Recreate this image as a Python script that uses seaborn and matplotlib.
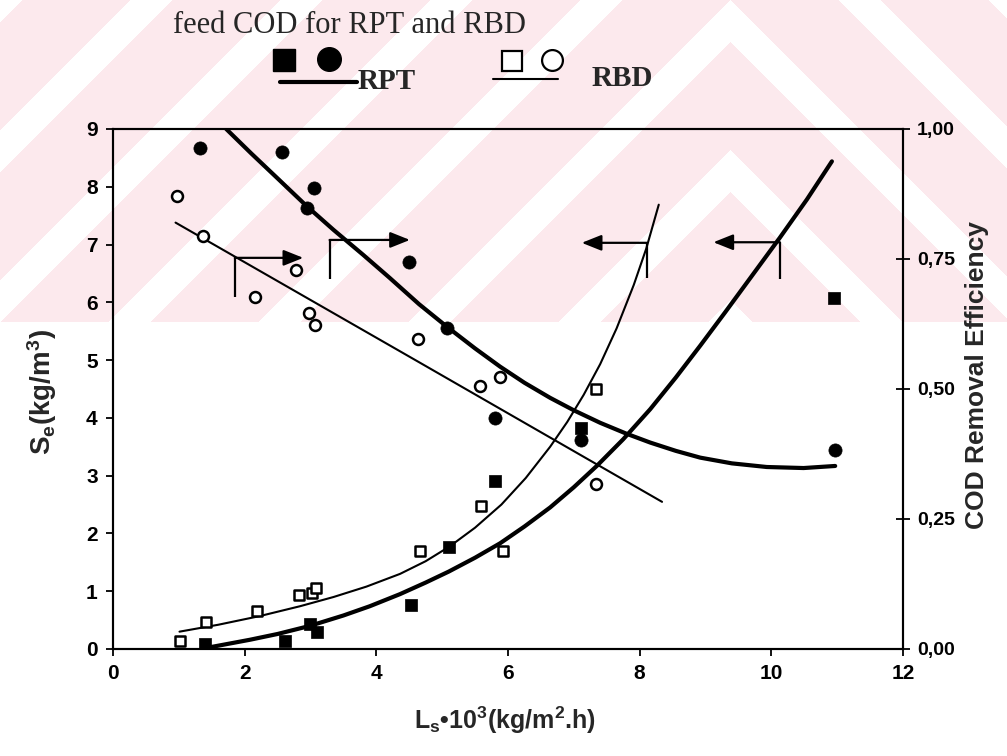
import numpy as np
import matplotlib
matplotlib.use("Agg")
import matplotlib.pyplot as plt
import seaborn as sns

# Loading rate L_s*10^3 (kg/m2.h) vs effluent COD S_e (kg/m3) -- measured points
rpt_se_x = [1.40, 2.62, 2.99, 3.10, 4.52, 5.10, 5.81, 7.11, 10.95]
rpt_se_y = [0.09, 0.13, 0.43, 0.29, 0.77, 1.76, 2.90, 3.83, 6.07]
rbd_se_x = [1.02, 1.41, 2.19, 2.83, 3.03, 3.09, 4.66, 5.59, 5.92, 7.33]
rbd_se_y = [0.14, 0.47, 0.66, 0.93, 0.97, 1.06, 1.69, 2.48, 1.69, 4.50]

# COD removal efficiency -- measured points
rpt_eff_x = [1.32, 2.56, 2.94, 3.05, 4.49, 5.07, 5.81, 7.11, 10.97]
rpt_eff_y = [0.963, 0.955, 0.849, 0.887, 0.744, 0.617, 0.445, 0.402, 0.382]
rbd_eff_x = [0.97, 1.37, 2.16, 2.78, 2.98, 3.07, 4.64, 5.58, 5.88, 7.33]
rbd_eff_y = [0.871, 0.794, 0.676, 0.728, 0.646, 0.624, 0.597, 0.506, 0.523, 0.318]

# Fitted trend curves
rpt_se_fit_x = [1.47, 2.08, 2.50, 2.99, 3.50, 3.90, 4.36, 4.75, 5.10, 5.50, 5.88, 6.25,
                6.64, 7.00, 7.35, 7.75, 8.16, 8.55, 8.92, 9.30, 9.68, 10.13, 10.54, 10.92]
rpt_se_fit_y = [0.03, 0.16, 0.26, 0.40, 0.58, 0.74, 0.95, 1.15, 1.34, 1.58, 1.83, 2.12,
                2.45, 2.80, 3.17, 3.63, 4.15, 4.70, 5.25, 5.83, 6.42, 7.12, 7.78, 8.44]
rbd_se_fit_x = [1.01, 1.60, 2.23, 2.84, 3.35, 3.85, 4.36, 4.75, 5.12, 5.50, 5.90, 6.27,
                6.64, 6.90, 7.15, 7.40, 7.65, 7.91, 8.10, 8.29]
rbd_se_fit_y = [0.30, 0.42, 0.57, 0.74, 0.90, 1.08, 1.30, 1.52, 1.78, 2.10, 2.50, 2.96,
                3.50, 3.93, 4.40, 4.93, 5.55, 6.30, 6.93, 7.69]
rpt_eff_fit_x = [1.72, 2.10, 2.50, 2.94, 3.35, 3.80, 4.20, 4.65, 5.07, 5.50, 5.88, 6.25,
                 6.64, 7.00, 7.40, 7.80, 8.16, 8.55, 8.92, 9.40, 9.93, 10.49, 10.97]
rpt_eff_fit_y = [1.000, 0.953, 0.905, 0.852, 0.806, 0.758, 0.714, 0.663, 0.620, 0.578,
                 0.543, 0.512, 0.483, 0.459, 0.435, 0.414, 0.397, 0.381, 0.368, 0.357,
                 0.350, 0.348, 0.352]
rbd_eff_fit_x = [0.95, 4.67, 8.34]
rbd_eff_fit_y = [0.820, 0.550, 0.283]

# Axis pointers (in S_e units): stem x, stem bottom, stem top, arrow tip x
arrow_x = [1.85, 3.29, 8.11, 10.13]
arrow_y0 = [6.09, 6.40, 6.42, 6.41]
arrow_y1 = [6.77, 7.08, 7.03, 7.04]
arrow_tip = [2.89, 4.51, 7.12, 9.12]

x_ticks = [0, 2, 4, 6, 8, 10, 12]
y_ticks = list(range(10))
eff_ticks = [0.0, 0.25, 0.5, 0.75, 1.0]
eff_labels = ["0,00", "0,25", "0,50", "0,75", "1,00"]

sns.set_theme(style="ticks")
plt.rcParams["font.family"] = ["Liberation Sans", "DejaVu Sans"]
plt.rcParams["mathtext.fontset"] = "custom"
plt.rcParams["mathtext.bf"] = "Liberation Sans:bold"
plt.rcParams["mathtext.rm"] = "Liberation Sans:bold"
plt.rcParams["mathtext.default"] = "bf"

W, H = 1007, 756
fig = plt.figure(figsize=(W / 100, H / 100), dpi=100, facecolor="white")

# pale chevron band across the top of the page
yy, xx = np.mgrid[0:H, 0:W]
band = (yy < 322)
phase = np.mod(yy - np.abs(xx - 730), 150)
pink = band & (phase >= 42)
bg = np.ones((H, W, 3))
bg[pink] = np.array([252, 233, 237]) / 255.0
fig.figimage(bg, xo=0, yo=0, origin="upper", zorder=-10)


def fx(px):
    return px / W


def fy(py):
    return 1 - py / H


ax = fig.add_axes([fx(113), fy(649), (903 - 113) / W, (649 - 129) / H])
ax.set_facecolor("none")
ax2 = ax.twinx()
ax2.set_facecolor("none")

thick = 3.0
thin = 1.5
blk = "black"

# S_e curves and points (left axis)
sns.lineplot(x=rpt_se_fit_x, y=rpt_se_fit_y, ax=ax, color=blk, lw=thick, sort=False, estimator=None)
sns.lineplot(x=rbd_se_fit_x, y=rbd_se_fit_y, ax=ax, color=blk, lw=thin, sort=False, estimator=None)
sns.scatterplot(x=rpt_se_x, y=rpt_se_y, ax=ax, marker="s", s=72, color=blk, edgecolor=blk, linewidth=0.5, zorder=5)
sns.scatterplot(x=rbd_se_x, y=rbd_se_y, ax=ax, marker="s", s=62, color="white", edgecolor=blk, linewidth=1.8, zorder=5)

# efficiency curves and points (right axis)
sns.lineplot(x=rpt_eff_fit_x, y=rpt_eff_fit_y, ax=ax2, color=blk, lw=thick, sort=False, estimator=None)
sns.lineplot(x=rbd_eff_fit_x, y=rbd_eff_fit_y, ax=ax2, color=blk, lw=thin, sort=False, estimator=None)
sns.scatterplot(x=rpt_eff_x, y=rpt_eff_y, ax=ax2, marker="o", s=90, color=blk, edgecolor=blk, linewidth=0.5, zorder=5)
sns.scatterplot(x=rbd_eff_x, y=rbd_eff_y, ax=ax2, marker="o", s=62, color="white", edgecolor=blk, linewidth=1.8, zorder=5)

# pointers telling which axis each curve belongs to
for x0, y0, y1, xt in zip(arrow_x, arrow_y0, arrow_y1, arrow_tip):
    ax.plot([x0, x0], [y0, y1], color=blk, lw=1.6, solid_capstyle="butt")
    ax.annotate("", xy=(xt, y1), xytext=(x0, y1),
                arrowprops=dict(arrowstyle="-|>,head_length=1.0,head_width=0.4",
                                color=blk, lw=1.6, shrinkA=0, shrinkB=0))

ax.set_xlim(0, 12)
ax.set_ylim(0, 9)
ax2.set_ylim(0, 1)
ax.set_xticks(x_ticks)
ax.set_yticks(y_ticks)
ax2.set_yticks(eff_ticks)
ax2.set_yticklabels(eff_labels)
ax.set_xlabel("")
ax.set_ylabel("")
ax2.set_ylabel("")

for a in (ax, ax2):
    for sp in a.spines.values():
        sp.set_visible(True)
        sp.set_linewidth(1.5)
        sp.set_color(blk)

ax.tick_params(axis="both", which="major", direction="out", length=5, width=1.3,
               labelsize=15, pad=6, colors=blk)
ax2.tick_params(axis="y", direction="inout", length=10, width=1.3, labelsize=14, pad=5, colors=blk)
for lab in ax.get_xticklabels() + ax.get_yticklabels() + ax2.get_yticklabels():
    lab.set_fontweight("bold")

# axis titles
fig.text(fx(42), fy(392), r"S$_e$(kg/m$^3$)", rotation=90, ha="center", va="center",
         fontsize=20, fontweight="bold")
fig.text(fx(977), fy(375), "COD Removal Efficiency", rotation=90, ha="center", va="center",
         fontsize=19, fontweight="bold")
fig.text(fx(505), fy(720), r"L$_s$•10$^3$(kg/m$^2$.h)", ha="center", va="center",
         fontsize=18, fontweight="bold")

# key at the top of the page
key = fig.add_axes([0, 0, 1, 1], facecolor="none")
key.set_xlim(0, W)
key.set_ylim(H, 0)
key.axis("off")
fig.text(fx(173), fy(33), "feed COD for RPT and RBD", fontsize=22,
         family=["Liberation Serif"], ha="left", va="baseline")
key.plot([284], [60], marker="s", ms=16, color=blk, ls="none")
key.plot([329], [59], marker="o", ms=17, color=blk, ls="none")
key.plot([280, 357], [82, 82], color=blk, lw=thick)
fig.text(fx(358), fy(89), "RPT", fontsize=21, fontweight="bold",
         family=["Liberation Serif"], ha="left", va="baseline")
key.plot([512], [61], marker="s", ms=15, mfc="white", mec=blk, mew=1.6, ls="none")
key.plot([552], [60], marker="o", ms=15, mfc="white", mec=blk, mew=1.6, ls="none")
key.plot([493, 558], [79, 79], color=blk, lw=thin)
fig.text(fx(592), fy(86), "RBD", fontsize=21, fontweight="bold",
         family=["Liberation Serif"], ha="left", va="baseline")

fig.savefig("out.png", dpi=100)
